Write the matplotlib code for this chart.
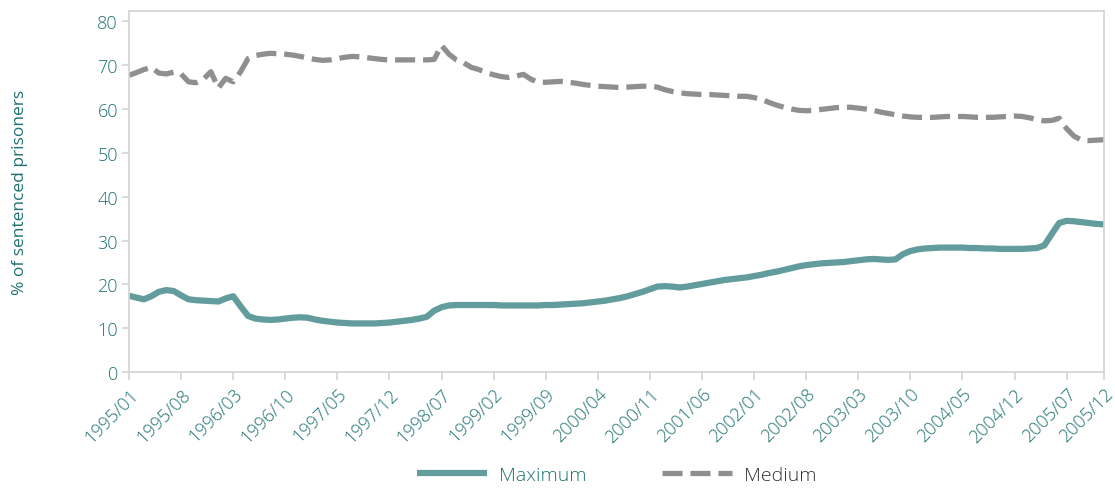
import matplotlib
matplotlib.use('Agg')
import matplotlib.pyplot as plt

plt.rcParams['font.family'] = ['Open Sans', 'DejaVu Sans']
plt.rcParams['font.weight'] = 'light'

# etiquetas del eje x (cada 7 meses + el último mes)
tick_pos = [0, 7, 14, 21, 28, 35, 42, 49, 56, 63, 70, 77, 84, 91, 98, 105, 112, 119, 126, 131]
tick_labels = ['1995/01', '1995/08', '1996/03', '1996/10', '1997/05', '1997/12', '1998/07',
               '1999/02', '1999/09', '2000/04', '2000/11', '2001/06', '2002/01', '2002/08',
               '2003/03', '2003/10', '2004/05', '2004/12', '2005/07', '2005/12']

# valores mensuales 1995/01 - 2005/12 (% de presos condenados)
maximum = [
    17.4, 17.0, 16.6, 17.3, 18.3, 18.7, 18.5, 17.5, 16.6, 16.4, 16.3, 16.2,   # 1995
    16.1, 16.8, 17.3, 15.0, 12.8, 12.2, 12.0, 11.9, 12.0, 12.2, 12.4, 12.5,   # 1996
    12.4, 12.0, 11.7, 11.5, 11.3, 11.2, 11.1, 11.1, 11.1, 11.1, 11.2, 11.3,   # 1997
    11.5, 11.7, 11.9, 12.2, 12.6, 14.0, 14.8, 15.2, 15.3, 15.3, 15.3, 15.3,   # 1998
    15.3, 15.3, 15.2, 15.2, 15.2, 15.2, 15.2, 15.2, 15.3, 15.3, 15.4, 15.5,   # 1999
    15.6, 15.7, 15.9, 16.1, 16.3, 16.6, 16.9, 17.3, 17.8, 18.3, 18.9, 19.5,   # 2000
    19.6, 19.5, 19.3, 19.5, 19.8, 20.1, 20.4, 20.7, 21.0, 21.2, 21.4, 21.6,   # 2001
    21.9, 22.2, 22.6, 22.9, 23.3, 23.7, 24.1, 24.4, 24.6, 24.8, 24.9, 25.0,   # 2002
    25.1, 25.3, 25.5, 25.7, 25.8, 25.7, 25.6, 25.7, 26.9, 27.6, 28.0, 28.2,   # 2003
    28.3, 28.4, 28.4, 28.4, 28.4, 28.3, 28.3, 28.2, 28.2, 28.1, 28.1, 28.1,   # 2004
    28.1, 28.2, 28.3, 28.9, 31.5, 34.0, 34.5, 34.4, 34.2, 34.0, 33.8, 33.7,   # 2005
]
medium = [
    67.7, 68.3, 69.0, 69.5, 68.2, 68.0, 68.4, 68.0, 66.2, 66.0, 66.8, 68.5,   # 1995
    64.8, 67.0, 66.2, 68.5, 71.5, 72.2, 72.5, 72.7, 72.6, 72.5, 72.3, 72.0,   # 1996
    71.6, 71.3, 71.1, 71.2, 71.5, 71.8, 72.0, 71.9, 71.7, 71.5, 71.3, 71.2,   # 1997
    71.2, 71.2, 71.2, 71.2, 71.2, 71.3, 74.5, 72.5, 71.2, 70.5, 69.5, 69.0,   # 1998
    68.3, 67.8, 67.4, 67.2, 67.5, 67.9, 66.8, 66.1, 66.1, 66.2, 66.3, 66.1,   # 1999
    65.9, 65.6, 65.4, 65.2, 65.1, 65.0, 64.9, 65.0, 65.1, 65.2, 65.2, 65.0,   # 2000
    64.4, 64.0, 63.7, 63.5, 63.4, 63.3, 63.3, 63.2, 63.1, 63.0, 62.9, 62.9,   # 2001
    62.6, 62.2, 61.5, 60.9, 60.4, 60.0, 59.7, 59.6, 59.7, 59.9, 60.1, 60.3,   # 2002
    60.4, 60.4, 60.2, 60.0, 59.7, 59.3, 59.0, 58.7, 58.4, 58.2, 58.1, 58.1,   # 2003
    58.1, 58.2, 58.3, 58.3, 58.3, 58.2, 58.1, 58.1, 58.1, 58.2, 58.3, 58.4,   # 2004
    58.3, 58.0, 57.6, 57.3, 57.4, 57.9, 55.5, 53.8, 52.9, 52.8, 52.9, 53.0,   # 2005
]

teal = '#639c9c'
teal_text = '#1f7272'
grey = '#8f8f8f'
spine_col = '#d3d3d3'

months = list(range(len(maximum)))

fig = plt.figure(figsize=(11.15, 4.89), dpi=100)
ax = fig.add_axes([0.1157, 0.237, 0.8743, 0.738])

ax.plot(months, maximum, color=teal, linewidth=4.5, solid_capstyle='butt',
        solid_joinstyle='round', label='Maximum')
ax.plot(months, medium, color=grey, linewidth=3.8, dashes=(3.8, 1.5),
        dash_capstyle='butt', label='Medium')

ax.set_xlim(0, 131)
ax.set_ylim(0, 82.3)
ax.set_yticks(range(0, 81, 10))
ax.set_xticks(tick_pos)
ax.set_xticklabels(tick_labels, rotation=45, ha='right', rotation_mode='anchor')

for s in ax.spines.values():
    s.set_color(spine_col)
    s.set_linewidth(1.2)

ax.tick_params(axis='both', colors=spine_col, labelcolor=teal_text, labelsize=13, width=1.2)
ax.tick_params(axis='y', length=5, pad=3)
ax.tick_params(axis='x', length=6, pad=3)

ax.set_ylabel('% of sentenced prisoners', color=teal_text, fontsize=12.5, labelpad=50)

leg = ax.legend(loc='center', bbox_to_anchor=(0.5, -0.285), ncol=2, frameon=False,
                fontsize=14, handlelength=3.6, columnspacing=3.9, handletextpad=0.6)
leg.get_texts()[0].set_color(teal_text)
leg.get_texts()[1].set_color('#333333')

fig.savefig('out.png', dpi=100)
